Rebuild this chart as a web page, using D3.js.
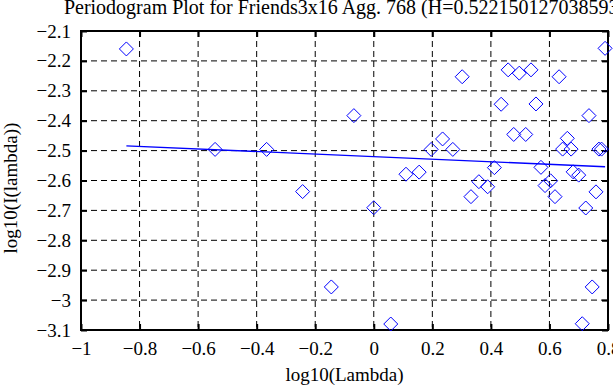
<!DOCTYPE html>
<html>
<head>
<meta charset="utf-8">
<script src="https://cdn.jsdelivr.net/npm/d3@7"></script>
<style>
  body { margin: 0; background: #fff; }
  svg { display: block; font-family: "Liberation Serif", "Times New Roman", serif; }
  text { font-family: "Liberation Serif", "Times New Roman", serif; fill: #000; }
</style>
</head>
<body>
<svg id="chart" width="613" height="385"></svg>
<script>
// periodogram points, log10(lambda) vs log10(I(lambda))
const logLambda = [-0.845, -0.542, -0.366, -0.243, -0.145, -0.068, 0.000, 0.058, 0.110, 0.155,
  0.196, 0.235, 0.270, 0.302, 0.332, 0.359, 0.389, 0.412, 0.435, 0.459,
  0.478, 0.497, 0.519, 0.537, 0.554, 0.571, 0.585, 0.604, 0.619, 0.633,
  0.645, 0.661, 0.674, 0.681, 0.700, 0.735, 0.724, 0.712, 0.746, 0.759,
  0.769, 0.778, 0.790];
const logI = [-2.160, -2.496, -2.496, -2.637, -2.956, -2.383, -2.691, -3.080, -2.579, -2.572,
  -2.496, -2.461, -2.496, -2.253, -2.654, -2.604, -2.621, -2.557, -2.345, -2.230,
  -2.446, -2.241, -2.446, -2.230, -2.344, -2.556, -2.617, -2.601, -2.654, -2.253,
  -2.495, -2.459, -2.495, -2.571, -2.582, -2.383, -2.692, -3.079, -2.956, -2.638,
  -2.495, -2.495, -2.158];

// least squares fit line, end points
const fitX = [-0.845, 0.790];
const fitY = [-2.484, -2.554];

const xTicks = [-1, -0.8, -0.6, -0.4, -0.2, 0, 0.2, 0.4, 0.6, 0.8];
const yTicks = [-2.1, -2.2, -2.3, -2.4, -2.5, -2.6, -2.7, -2.8, -2.9, -3, -3.1];

const titleText = "Periodogram Plot for Friends3x16 Agg. 768 (H=0.522150127038593)";

const svg = d3.select("#chart");
const m = { left: 81, right: 608, top: 31, bottom: 330 };

const x = d3.scaleLinear().domain([-1, 0.8]).range([m.left, m.right]);
const y = d3.scaleLinear().domain([-3.1, -2.1]).range([m.bottom, m.top]);

const fmt = d => String(d).replace("-", "\u2212");

// grid
svg.append("g").selectAll("line")
  .data(xTicks.slice(1, -1))
  .enter().append("line")
  .attr("x1", d => x(d)).attr("x2", d => x(d))
  .attr("y1", m.top).attr("y2", m.bottom)
  .attr("stroke", "#000").attr("stroke-dasharray", "6,4");

svg.append("g").selectAll("line")
  .data(yTicks.slice(1, -1))
  .enter().append("line")
  .attr("x1", m.left).attr("x2", m.right)
  .attr("y1", d => y(d)).attr("y2", d => y(d))
  .attr("stroke", "#000").attr("stroke-dasharray", "6,4");

// axes with inward ticks on all sides
const tl = 6;
const axes = [
  svg.append("g").attr("transform", `translate(0,${m.bottom})`)
    .call(d3.axisBottom(x).tickValues(xTicks).tickSize(-tl).tickPadding(12).tickFormat(fmt)),
  svg.append("g").attr("transform", `translate(0,${m.top})`)
    .call(d3.axisTop(x).tickValues(xTicks).tickSize(-tl).tickFormat("")),
  svg.append("g").attr("transform", `translate(${m.left},0)`)
    .call(d3.axisLeft(y).tickValues(yTicks).tickSize(-tl).tickPadding(10).tickFormat(fmt)),
  svg.append("g").attr("transform", `translate(${m.right},0)`)
    .call(d3.axisRight(y).tickValues(yTicks).tickSize(-tl).tickFormat(""))
];
axes.forEach(g => g.attr("font-family", null).attr("font-size", null));

svg.selectAll(".domain").remove();
svg.selectAll(".tick line").attr("stroke", "#000").attr("stroke-width", 2);
svg.selectAll(".tick text").style("font-size", "19px");

svg.append("rect")
  .attr("x", m.left).attr("y", m.top)
  .attr("width", m.right - m.left).attr("height", m.bottom - m.top)
  .attr("fill", "none").attr("stroke", "#000").attr("stroke-width", 2);

// fit line
const line = d3.line().x(d => x(d[0])).y(d => y(d[1]));
svg.append("path")
  .datum(d3.zip(fitX, fitY))
  .attr("d", line)
  .attr("fill", "none").attr("stroke", "#0000ff").attr("stroke-width", 1.3);

// diamond markers
const r = 7;
svg.append("g").selectAll("path")
  .data(d3.zip(logLambda, logI))
  .enter().append("path")
  .attr("transform", d => `translate(${x(d[0])},${y(d[1])})`)
  .attr("d", `M0,${-r}L${r},0L0,${r}L${-r},0Z`)
  .attr("fill", "none").attr("stroke", "#0000ff").attr("stroke-width", 1);

// labels
svg.append("text")
  .attr("x", (m.left + m.right) / 2).attr("y", 14)
  .attr("text-anchor", "middle").style("font-size", "20px")
  .text(titleText);

svg.append("text")
  .attr("x", (m.left + m.right) / 2).attr("y", 381)
  .attr("text-anchor", "middle").style("font-size", "19px")
  .text("log10(Lambda)");

svg.append("text")
  .attr("transform", `translate(17,188) rotate(-90)`)
  .attr("text-anchor", "middle").style("font-size", "19px")
  .text("log10(I(lambda))");
</script>
</body>
</html>
